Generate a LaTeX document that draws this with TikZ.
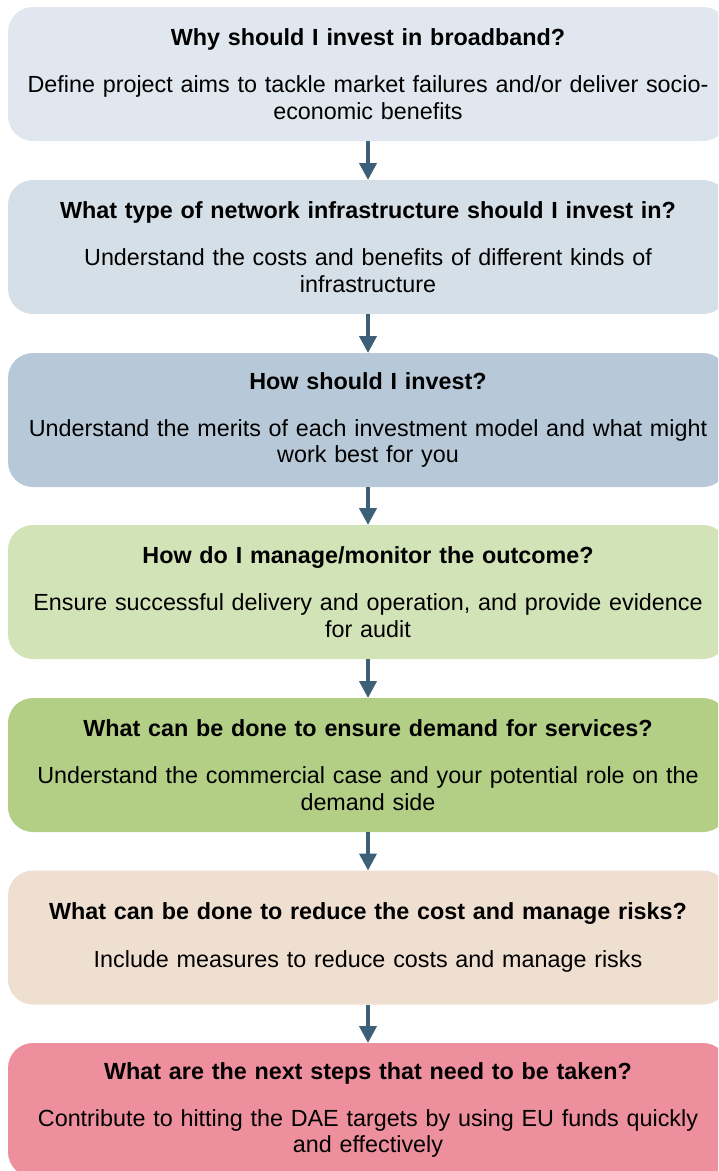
\documentclass[tikz,border=0pt]{standalone}
\usepackage{fontspec}
\setmainfont{Liberation Sans}
\usetikzlibrary{arrows.meta}

\definecolor{boxA}{RGB}{224,231,238}
\definecolor{boxB}{RGB}{213,223,232}
\definecolor{boxC}{RGB}{183,201,216}
\definecolor{boxD}{RGB}{211,227,184}
\definecolor{boxE}{RGB}{179,207,133}
\definecolor{boxF}{RGB}{239,223,209}
\definecolor{boxG}{RGB}{238,143,158}
\definecolor{arrowblue}{RGB}{62,95,120}

\tikzset{
  stepbox/.style={rectangle, rounded corners=18.75pt, draw=none, outer sep=0pt,
    minimum width=540pt, minimum height=100.5pt, text width=530pt, align=center,
    font=\fontsize{17.5}{19.6}\selectfont},
  flowarrow/.style={draw=arrowblue, line width=3pt, -{Triangle[length=12.75pt,width=12.75pt]}}
}
\newcommand{\boxhead}[1]{{\bfseries #1}\\[15.8pt]}

\begin{document}
\begin{tikzpicture}[x=0.75pt,y=0.75pt,yscale=-1,xscale=1]
\useasboundingbox (0,0) rectangle (718,1171);
\clip (0,0) rectangle (718,1171);

%Shape: Rounded Rect
\node [stepbox, fill=boxA] (why) at (368,74) {\boxhead{Why should I invest in broadband?}Define project aims to tackle market failures and/or deliver socio-\\economic benefits};
%Shape: Rounded Rect
\node [stepbox, fill=boxB] (type) at (368,247) {\boxhead{What type of network infrastructure should I invest in?}Understand the costs and benefits of different kinds of\\infrastructure};
%Shape: Rounded Rect
\node [stepbox, fill=boxC] (how) at (368,420) {\boxhead{How should I invest?}Understand the merits of each investment model and what might\\work best for you};
%Shape: Rounded Rect
\node [stepbox, fill=boxD] (manage) at (368,592) {\boxhead{How do I manage/monitor the outcome?}Ensure successful delivery and operation, and provide evidence\\for audit};
%Shape: Rounded Rect
\node [stepbox, fill=boxE] (demand) at (368,765) {\boxhead{What can be done to ensure demand for services?}Understand the commercial case and your potential role on the\\demand side};
%Shape: Rounded Rect
\node [stepbox, fill=boxF] (cost) at (368,937.5) {\boxhead{What can be done to reduce the cost and manage risks?}Include measures to reduce costs and manage risks};
%Shape: Rounded Rect
\node [stepbox, fill=boxG] (next) at (368,1110) {\boxhead{What are the next steps that need to be taken?}Contribute to hitting the DAE targets by using EU funds quickly\\and effectively};

%Straight Lines
\draw [flowarrow] (why) -- (type);
\draw [flowarrow] (type) -- (how);
\draw [flowarrow] (how) -- (manage);
\draw [flowarrow] (manage) -- (demand);
\draw [flowarrow] (demand) -- (cost);
\draw [flowarrow] (cost) -- (next);

\end{tikzpicture}
\end{document}
